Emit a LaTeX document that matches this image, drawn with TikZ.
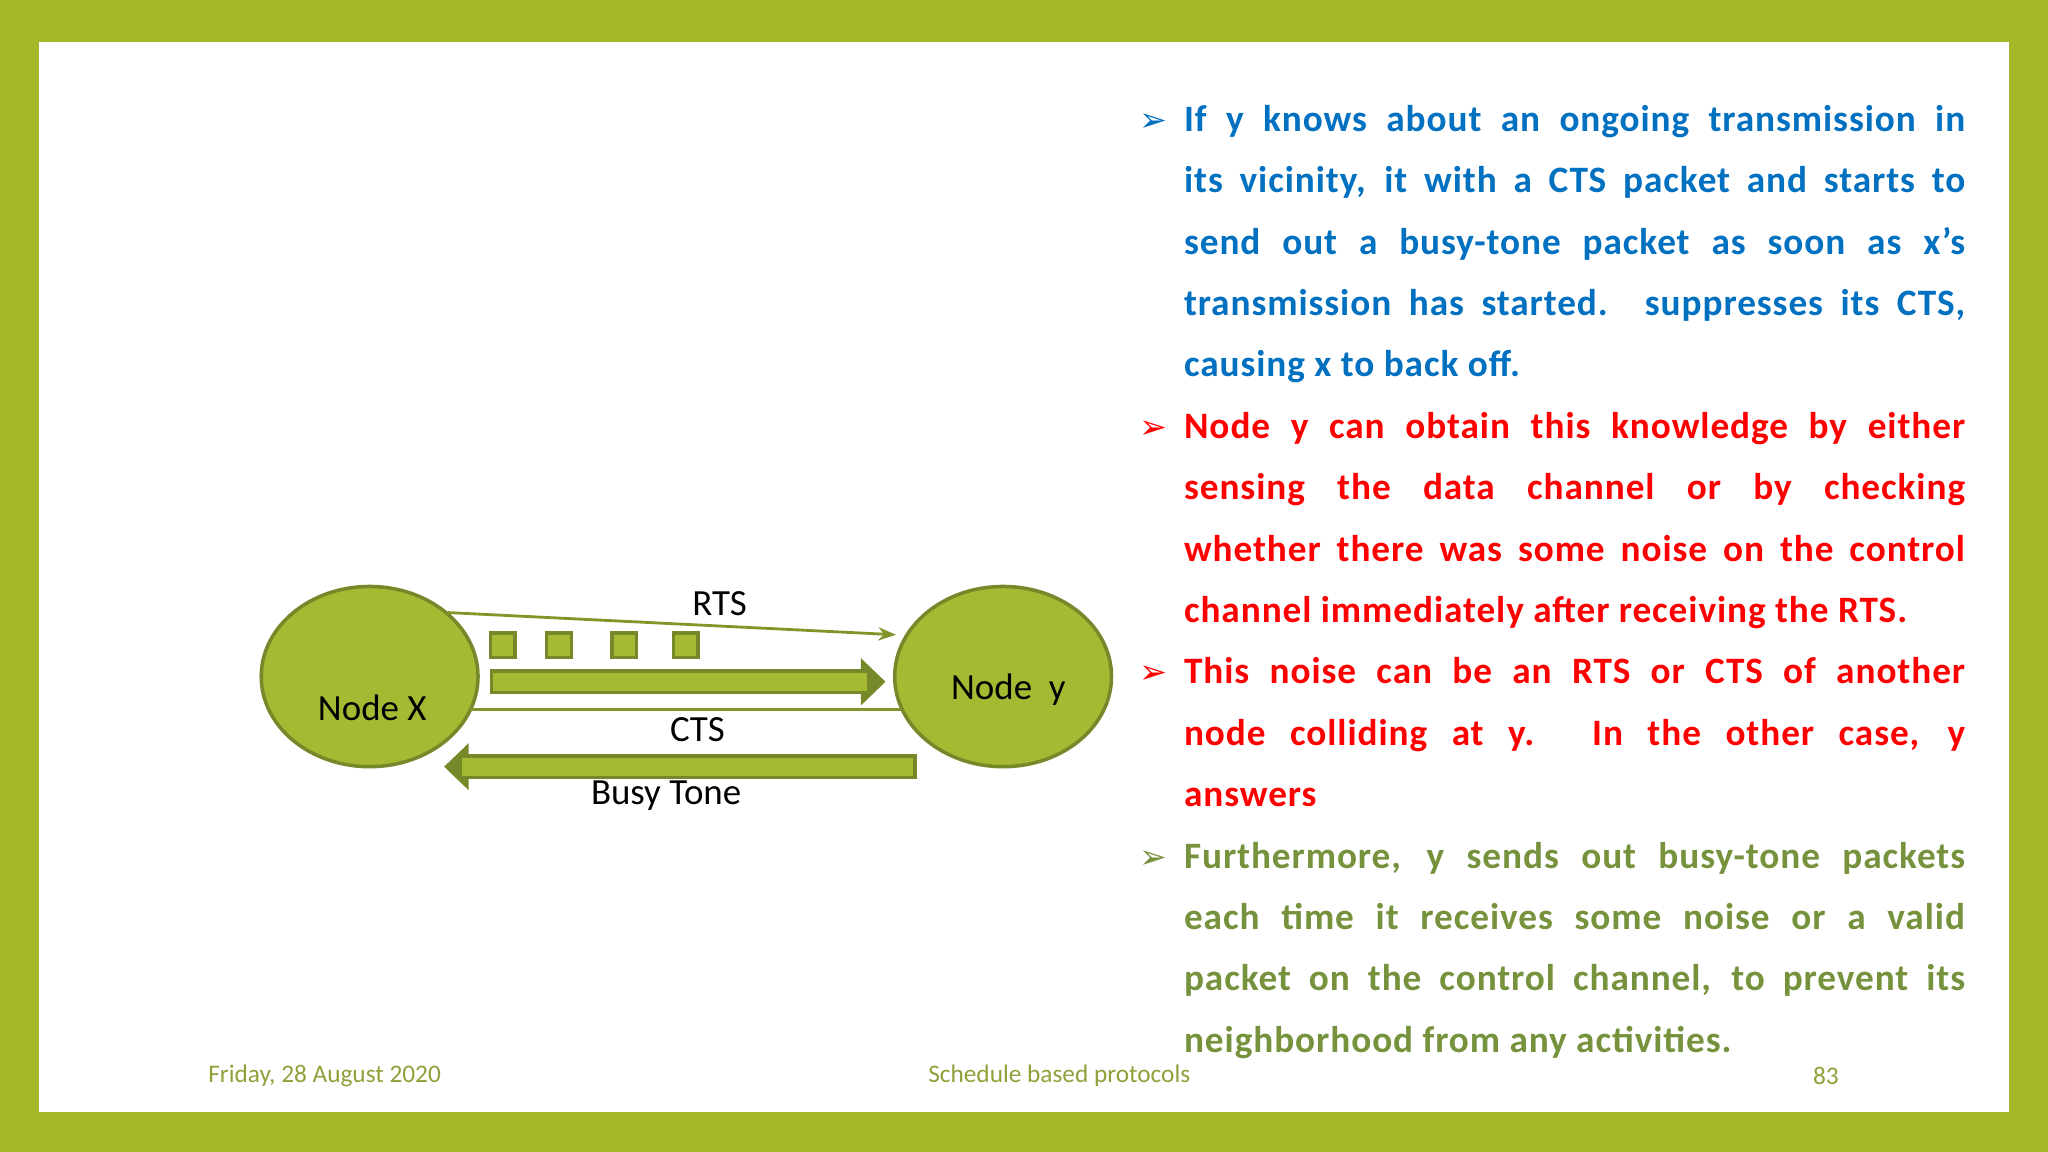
\documentclass[tikz,border=0pt]{standalone}
\usepackage{fontspec}
\setmainfont{Carlito}
\newfontfamily\spaced[LetterSpace=2.5]{Carlito}
\newfontfamily\dv{DejaVu Sans}
\usetikzlibrary{shapes.arrows,arrows.meta,calc}
\definecolor{frame}{HTML}{A4B828}
\definecolor{nodefill}{HTML}{A5B932}
\definecolor{nodeline}{HTML}{76892A}
\definecolor{tblue}{HTML}{0070C0}
\definecolor{tred}{HTML}{FF0000}
\definecolor{tolive}{HTML}{76923C}
\definecolor{foot}{HTML}{8DA23A}
\newcommand{\bul}[1]{\noindent\llap{\makebox[12.6pt][l]{\color{#1}\dv\fontsize{9.5pt}{9.5pt}\selectfont ➢}}}
\begin{document}
\begin{tikzpicture}[x=0.013061cm,y=-0.013061cm,
  sq/.style={draw=nodeline,line width=1pt,fill=nodefill,minimum size=7pt,inner sep=0},
  lbl/.style={font=\fontsize{10.5pt}{12pt}\selectfont,inner sep=0},
  foott/.style={font=\fontsize{7.2pt}{8pt}\selectfont,text=foot,inner sep=0}]
\fill[frame] (0,0) rectangle (1568,882);
\fill[white] (30,32) rectangle (1538,851);
\useasboundingbox (0,0) rectangle (1568,882);
% nodes
\draw[draw=nodeline,line width=1pt,fill=nodefill] (283,518) ellipse [x radius=83,y radius=69];
\draw[draw=nodeline,line width=1pt,fill=nodefill] (768,518) ellipse [x radius=83,y radius=69];
\node[lbl] (nx) at (285,542) {Node X};
\node[lbl] (ny) at (772,528) {Node\ \ y};
\coordinate (r1) at (343,469); \coordinate (r2) at (686,486);
\draw[nodefill!80!black,line width=0.8pt,-{Stealth[length=5pt]}] (r1) -- (r2);
\node[lbl] (rts) at (551,462) {RTS};
\foreach \x/\n in {385/a,428/b,478/c,525/d}{\node[sq] (s\n) at (\x,494) {};}
\coordinate (a1) at (375,522); \coordinate (a2) at (678,522);
\draw[nodeline,line width=7pt,-{Triangle[length=7pt,width=13pt]}] (a1) -- (a2);
\draw[nodefill,line width=5.2pt,shorten <=1pt] (a1) -- ($(a2)+(-14,0)$);
\coordinate (c1) at (360,543); \coordinate (c2) at (690,543);
\draw[nodefill!80!black,line width=0.8pt] (c1) -- (c2);
\node[lbl] (cts) at (534,559) {CTS};
\coordinate (b1) at (702,587); \coordinate (b2) at (340,587);
\draw[nodeline,line width=7pt,-{Triangle[length=7pt,width=13pt]}] (b1) -- (b2);
\draw[nodefill,line width=5.2pt,shorten <=1pt] (b1) -- ($(b2)+(14,0)$);
\node[lbl] (bt) at (510,609) {Busy Tone};
% text
\node[anchor=north west,inner sep=0,text width=7.81cm,align=justify,
  font=\spaced\bfseries\fontsize{10.6pt}{17.47pt}\selectfont] (txt) at (906,80) {%
\hyphenpenalty=10000 \emergencystretch=3em \hbadness=10000 \hfuzz=20pt
\bul{tblue}{\color{tblue}If y knows about an ongoing transmission in\linebreak its vicinity, it with a CTS packet and starts to\linebreak send out a busy-tone packet as soon as x’s\linebreak transmission has started. suppresses its CTS,\linebreak causing x to back off.}\par
\bul{tred}{\color{tred}Node y can obtain this knowledge by either\linebreak sensing the data channel or by checking\linebreak whether there was some noise on the control\linebreak channel immediately after receiving the RTS.}\par
\bul{tred}{\color{tred}This noise can be an RTS or CTS of another\linebreak node colliding at y. In the other case, y\linebreak answers}\par
\bul{tolive}{\color{tolive}Furthermore, y sends out busy-tone packets\linebreak each time it receives some noise or a valid\linebreak packet on the control channel, to prevent its\linebreak neighborhood from any activities.}\par};
% footer
\node[foott,anchor=west] (f1) at (159,824) {Friday, 28 August 2020};
\node[foott] (f2) at (811,824) {Schedule based protocols};
\node[foott] (f3) at (1398,824) {83};
\end{tikzpicture}
\end{document}
